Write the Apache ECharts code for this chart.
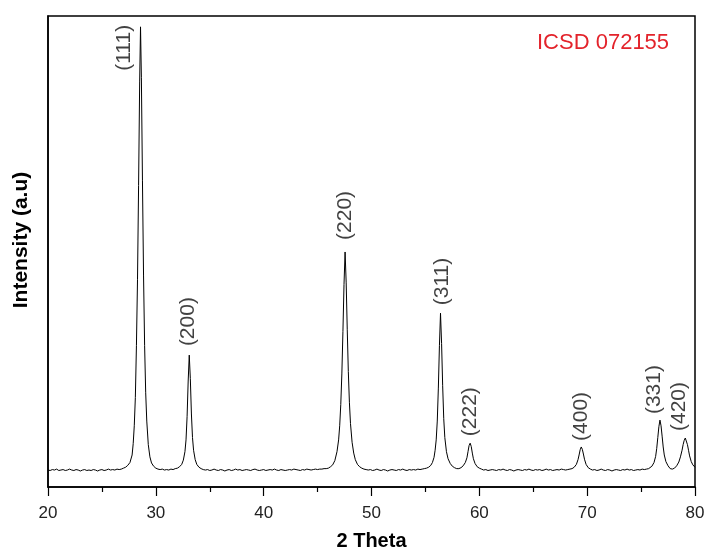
<!DOCTYPE html>
<html lang="en">
<head>
    <meta charset="UTF-8">
    <title>XRD</title>
    <script src="https://cdn.jsdelivr.net/npm/echarts@6/dist/echarts.min.js"></script>
    <style>
        html, body { margin: 0; padding: 0; background: #fff; }
        #main { width: 705px; height: 552px; }
    </style>
</head>
<body>
<div id="main"></div>
<script>
    // measured pattern, [2theta, intensity]
    var baseLeft = [
        [20.0, 36], [20.2, 35], [20.4, 37], [20.6, 36], [20.8, 38], [21.0, 35], [21.2, 36], [21.4, 37],
        [21.6, 35], [21.8, 36], [22.0, 38], [22.2, 36], [22.4, 35], [22.6, 37], [22.8, 36], [23.0, 34],
        [23.2, 36], [23.4, 37], [23.6, 35], [23.8, 36], [24.0, 35], [24.2, 37], [24.4, 36], [24.6, 34],
        [24.8, 36], [25.0, 37], [25.2, 35], [25.4, 36], [25.6, 38], [25.8, 36], [26.0, 37], [26.2, 36],
        [26.4, 38], [26.6, 37], [26.8, 38]
    ];
    var peak111 = [
        [27.0, 40], [27.2, 42], [27.4, 46], [27.6, 52], [27.8, 68], [27.9, 92], [28.0, 130], [28.1, 190],
        [28.2, 300], [28.3, 440], [28.4, 640], [28.5, 860], [28.58, 977], [28.66, 870], [28.76, 650],
        [28.86, 450], [28.96, 300], [29.06, 200], [29.16, 140], [29.3, 90], [29.45, 64], [29.6, 51],
        [29.8, 44], [30.0, 40], [30.2, 38], [30.4, 37], [30.6, 38], [30.8, 36], [31.0, 37], [31.2, 36],
        [31.4, 38], [31.6, 37], [31.8, 39]
    ];
    var peak200 = [
        [32.0, 40], [32.2, 43], [32.4, 48], [32.55, 57], [32.7, 75], [32.8, 100], [32.9, 150], [33.0, 225],
        [33.1, 280], [33.2, 230], [33.3, 155], [33.4, 105], [33.5, 78], [33.65, 58], [33.8, 48], [34.0, 42],
        [34.2, 39]
    ];
    var baseMid1 = [
        [34.4, 37], [34.6, 36], [34.8, 37], [35.0, 35], [35.2, 36], [35.4, 38], [35.6, 36], [35.8, 35],
        [36.0, 37], [36.2, 36], [36.4, 34], [36.6, 36], [36.8, 37], [37.0, 35], [37.2, 36], [37.4, 38],
        [37.6, 36], [37.8, 37], [38.0, 35], [38.2, 36], [38.4, 37], [38.6, 36], [38.8, 35], [39.0, 37],
        [39.2, 38], [39.4, 36], [39.6, 35], [39.8, 36], [40.0, 37], [40.2, 35], [40.4, 36], [40.6, 37],
        [40.8, 36], [41.0, 38], [41.2, 36], [41.4, 35], [41.6, 37], [41.8, 36], [42.0, 35], [42.2, 36],
        [42.4, 37], [42.6, 36], [42.8, 38], [43.0, 37], [43.2, 36], [43.4, 35], [43.6, 37], [43.8, 36],
        [44.0, 38], [44.2, 37], [44.4, 36], [44.6, 37], [44.8, 38], [45.0, 37], [45.2, 38], [45.4, 38],
        [45.6, 39], [45.8, 39]
    ];
    var peak220 = [
        [46.0, 40], [46.2, 43], [46.4, 47], [46.6, 56], [46.8, 75], [46.95, 100], [47.05, 130], [47.15, 175],
        [47.25, 240], [47.35, 330], [47.45, 430], [47.55, 499], [47.65, 435], [47.75, 335], [47.85, 245],
        [47.95, 180], [48.05, 135], [48.2, 95], [48.35, 72], [48.5, 58], [48.7, 48], [48.9, 43], [49.1, 40],
        [49.3, 38]
    ];
    var baseMid2 = [
        [49.5, 37], [49.7, 36], [49.9, 37], [50.1, 35], [50.3, 36], [50.5, 38], [50.7, 36], [50.9, 35],
        [51.1, 37], [51.3, 36], [51.5, 34], [51.7, 36], [51.9, 37], [52.1, 36], [52.3, 35], [52.5, 37],
        [52.7, 36], [52.9, 38], [53.1, 36], [53.3, 35], [53.5, 37], [53.7, 36], [53.9, 37], [54.1, 36],
        [54.3, 38], [54.5, 37], [54.7, 38], [54.9, 39]
    ];
    var peak311 = [
        [55.1, 40], [55.3, 42], [55.5, 46], [55.65, 52], [55.8, 63], [55.9, 78], [56.0, 100], [56.1, 140],
        [56.2, 210], [56.3, 300], [56.4, 369], [56.5, 305], [56.6, 215], [56.7, 145], [56.8, 105],
        [56.95, 75], [57.1, 60], [57.3, 50], [57.5, 44], [57.7, 41], [57.9, 39], [58.1, 39], [58.3, 41]
    ];
    var peak222 = [
        [58.5, 45], [58.7, 52], [58.85, 62], [58.95, 75], [59.05, 88], [59.15, 93], [59.25, 86], [59.35, 72],
        [59.45, 60], [59.6, 50], [59.8, 43], [60.0, 40]
    ];
    var baseMid3 = [
        [60.2, 38], [60.4, 36], [60.6, 37], [60.8, 35], [61.0, 36], [61.2, 37], [61.4, 36], [61.6, 35],
        [61.8, 37], [62.0, 36], [62.2, 38], [62.4, 36], [62.6, 35], [62.8, 37], [63.0, 36], [63.2, 34],
        [63.4, 36], [63.6, 37], [63.8, 36], [64.0, 35], [64.2, 37], [64.4, 36], [64.6, 38], [64.8, 36],
        [65.0, 35], [65.2, 37], [65.4, 36], [65.6, 37], [65.8, 35], [66.0, 36], [66.2, 38], [66.4, 36],
        [66.6, 37], [66.8, 35], [67.0, 36], [67.2, 37], [67.4, 36], [67.6, 38], [67.8, 37], [68.0, 36],
        [68.2, 37], [68.4, 38]
    ];
    var peak400 = [
        [68.6, 39], [68.8, 42], [69.0, 48], [69.15, 58], [69.25, 68], [69.35, 79], [69.45, 85], [69.55, 80],
        [69.65, 70], [69.75, 59], [69.9, 48], [70.1, 41], [70.3, 38]
    ];
    var baseRight = [
        [70.5, 36], [70.7, 37], [70.9, 35], [71.1, 36], [71.3, 38], [71.5, 36], [71.7, 35], [71.9, 37],
        [72.1, 36], [72.3, 34], [72.5, 36], [72.7, 37], [72.9, 36], [73.1, 35], [73.3, 37], [73.5, 36],
        [73.7, 38], [73.9, 36], [74.1, 37], [74.3, 35], [74.5, 36], [74.7, 37], [74.9, 36], [75.1, 38],
        [75.3, 37], [75.5, 38], [75.7, 39]
    ];
    var peak331and420 = [
        [75.85, 41], [76.0, 44], [76.2, 52], [76.35, 65], [76.45, 82], [76.55, 105], [76.65, 128],
        [76.75, 142], [76.85, 130], [76.95, 108], [77.05, 85], [77.15, 68], [77.3, 54], [77.5, 45],
        [77.7, 39], [77.9, 38], [78.1, 40], [78.3, 45], [78.5, 53], [78.65, 64], [78.8, 78], [78.9, 90],
        [79.0, 99], [79.1, 104], [79.2, 100], [79.3, 90], [79.4, 78], [79.5, 66], [79.65, 54], [79.8, 47],
        [80.0, 42]
    ];

    var hkl = ['(111)', '(200)', '(220)', '(311)', '(222)', '(400)', '(331)', '(420)'];
    var hklTheta = [28.58, 33.1, 47.55, 56.4, 59.15, 69.45, 76.75, 79.1];
    var hklTop = [977, 280, 499, 369, 93, 85, 142, 104];

    var xTicks = [20, 30, 40, 50, 60, 70, 80];

    var pattern = [].concat(baseLeft, peak111, peak200, baseMid1, peak220, baseMid2,
        peak311, peak222, baseMid3, peak400, baseRight, peak331and420);

    // label placement per peak: gap above the peak top, sideways shift
    // (label offset is in the rotated frame: [along text, across text])
    var labelGap = [0, 9, 12, 8, 7, 6, 6, 7];
    var labelShift = [0, -1, 0, 2, 0, 0, -6, -6];

    var peakMarks = hkl.map(function (name, i) {
        var item = {value: [hklTheta[i], hklTop[i]], name: name};
        if (i === 0) {
            item.label = {position: 'left', distance: 16, align: 'right', offset: [2, 0]};
        } else {
            item.label = {distance: labelGap[i], offset: [0, labelShift[i]]};
        }
        return item;
    });

    var myChart = echarts.init(document.getElementById('main'));
    var font = '"Liberation Sans", Arial, sans-serif';

    var option = {
        animation: false,
        backgroundColor: '#fff',
        grid: {
            left: 48, right: 10, top: 16, bottom: 65,
            outerBoundsMode: 'none',
            containLabel: false,
            show: true, borderColor: '#000', borderWidth: 1.5
        },
        xAxis: {
            type: 'value',
            min: 20, max: 80, interval: 10,
            name: '2 Theta',
            nameLocation: 'middle',
            nameGap: 44,
            nameTextStyle: {color: '#000', fontSize: 20, fontWeight: 'bold', fontFamily: font},
            axisLine: {lineStyle: {color: '#000', width: 1.5}},
            axisTick: {length: 9, lineStyle: {color: '#000', width: 1.2}},
            minorTick: {show: true, splitNumber: 2, length: 5, lineStyle: {color: '#000', width: 1.2}},
            axisLabel: {
                color: '#222', fontSize: 17, margin: 18, fontFamily: font,
                formatter: function (v) { return xTicks.indexOf(v) >= 0 ? String(v) : ''; }
            },
            splitLine: {show: false}
        },
        yAxis: {
            type: 'value',
            min: 0, max: 1000,
            axisLine: {show: true, lineStyle: {color: '#000', width: 1.5}},
            axisTick: {show: false},
            axisLabel: {show: false},
            splitLine: {show: false}
        },
        graphic: [{
            type: 'text',
            left: 537, top: 32,
            style: {text: 'ICSD 072155', fill: '#e3232b', fontSize: 22, fontFamily: font}
        }, {
            type: 'text',
            x: 21, y: 240,
            rotation: Math.PI / 2,
            style: {
                text: 'Intensity (a.u)', fill: '#000', fontSize: 21, fontWeight: 'bold',
                fontFamily: font, align: 'center', verticalAlign: 'middle'
            }
        }],
        series: [
            {
                type: 'line',
                data: pattern,
                showSymbol: false,
                lineStyle: {color: '#000', width: 1},
                silent: true
            },
            {
                type: 'scatter',
                data: peakMarks,
                symbolSize: 0,
                silent: true,
                label: {
                    show: true,
                    position: 'top',
                    rotate: 90,
                    align: 'left',
                    verticalAlign: 'middle',
                    formatter: '{b}',
                    color: '#111',
                    fontSize: 21,
                    fontFamily: font
                }
            }
        ]
    };

    myChart.setOption(option);
</script>
</body>
</html>
